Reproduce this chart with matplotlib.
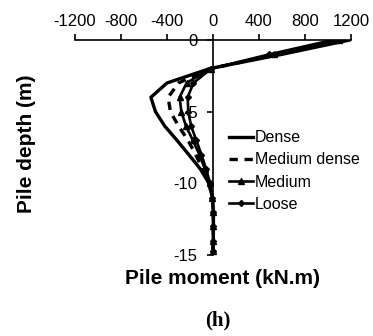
import numpy as np
import matplotlib.pyplot as plt

plt.rcParams['font.family'] = ['Liberation Sans', 'DejaVu Sans']
plt.rcParams['axes.unicode_minus'] = False

#%% pile moment profiles (kN.m) against depth (m)
depth = [0, -1, -2, -3, -4, -5, -6, -7, -8, -9, -10, -11, -12, -13, -14, -14.7]

dense = [1190, 600, -30, -400, -540, -500, -420, -313, -210, -110, -35, -5, 4, 4, 3, 0]
medium_dense = [1150, 570, -25, -300, -390, -370, -300, -217, -150, -90, -35, -5, 3, 3, 2, 0]
medium = [1100, 530, -20, -230, -290, -275, -235, -175, -118, -70, -30, -5, 2, 2, 2, 0]
loose = [1040, 490, -15, -170, -220, -215, -190, -145, -100, -60, -25, -5, 2, 2, 2, 0]

#%% plot
fig = plt.figure(figsize=(3.73, 3.36), dpi=100)
ax = fig.add_axes([0.201, 0.241, 0.740, 0.640])

ax.plot(dense, depth, 'k-', lw=2.4, label='Dense')
ax.plot(medium_dense, depth, 'k--', lw=2.4, dashes=(2.5, 2), label='Medium dense')
ax.plot(medium, depth, 'k-', lw=1.9, marker='^', ms=4, label='Medium')
ax.plot(loose, depth, 'k-', lw=1.9, marker='D', ms=3, label='Loose')

ax.set_xlim(-1200, 1200)
ax.set_ylim(-15, 0)
ax.set_xticks([-1200, -800, -400, 0, 400, 800, 1200])
ax.set_yticks([-15, -10, -5, 0])

ax.xaxis.set_ticks_position('top')
ax.spines['left'].set_position(('data', 0))
ax.spines['right'].set_visible(False)
ax.spines['bottom'].set_visible(False)
for s in ('top', 'left'):
    ax.spines[s].set_linewidth(1.2)
ax.tick_params(axis='both', direction='out', length=4, width=1.2, labelsize=12)
ax.tick_params(axis='x', pad=4)
ax.tick_params(axis='y', pad=7)

fig.text(223 / 373, 1 - 278 / 336, 'Pile moment (kN.m)', fontsize=15,
         fontweight='bold', ha='center', va='center')
fig.text(27 / 373, 0.571, 'Pile depth (m)', rotation=90, fontsize=15,
         fontweight='bold', ha='center', va='center')

ax.legend(loc='upper left', bbox_to_anchor=(0.558, 0.58), frameon=False,
          fontsize=11.5, handlelength=1.5, handletextpad=0.1,
          labelspacing=0.45, borderpad=0, borderaxespad=0)

fig.text(218 / 373, 1 - 320 / 336, '(h)', fontsize=15, fontweight='bold',
         family='Liberation Serif', ha='center', va='center')

fig.savefig('out.png', dpi=100)
